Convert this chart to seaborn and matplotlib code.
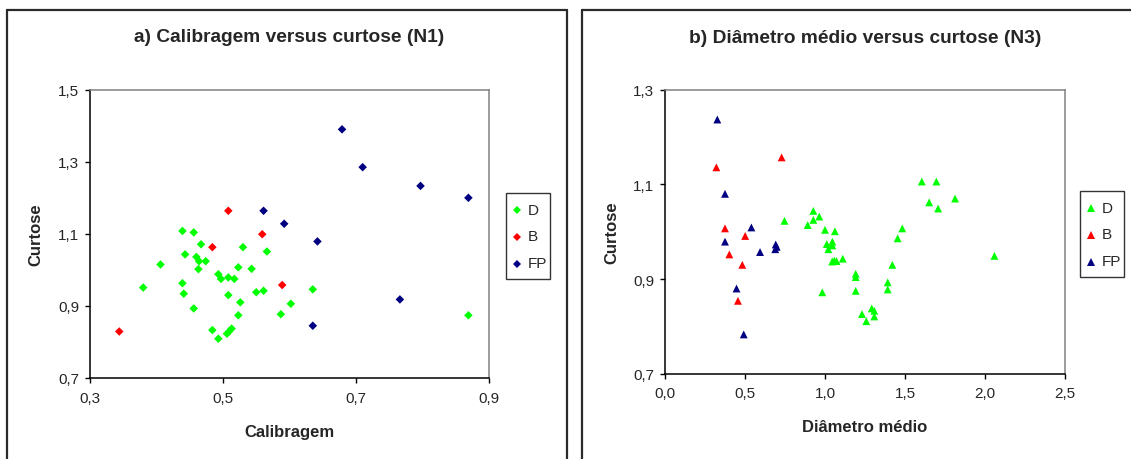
import numpy as np
import pandas as pd
import seaborn as sns
import matplotlib
matplotlib.use("Agg")
import matplotlib.pyplot as plt
from matplotlib.lines import Line2D
from matplotlib.legend_handler import HandlerLine2D

# ---------------- data ----------------
groups = ["D", "B", "FP"]
colors = {"D": "#00FF00", "B": "#FF0000", "FP": "#000080"}

# Panel a) Calibragem versus curtose (N1)
a_D_cal = [0.439, 0.456, 0.467, 0.443, 0.460, 0.464, 0.474, 0.463, 0.406, 0.380,
           0.439, 0.441, 0.456, 0.530, 0.523, 0.543, 0.566, 0.493, 0.497, 0.508,
           0.517, 0.508, 0.550, 0.561, 0.526, 0.602, 0.523, 0.587, 0.635, 0.869,
           0.484, 0.493, 0.506, 0.509, 0.513]
a_D_curt = [1.108, 1.104, 1.071, 1.043, 1.036, 1.024, 1.024, 1.002, 1.015, 0.951,
            0.963, 0.934, 0.893, 1.063, 1.007, 1.003, 1.051, 0.988, 0.975, 0.979,
            0.975, 0.930, 0.938, 0.942, 0.910, 0.906, 0.874, 0.877, 0.946, 0.874,
            0.833, 0.809, 0.823, 0.829, 0.837]
a_B_cal = [0.508, 0.484, 0.559, 0.589, 0.344]
a_B_curt = [1.164, 1.063, 1.099, 0.958, 0.829]
a_FP_cal = [0.679, 0.710, 0.797, 0.869, 0.561, 0.592, 0.642, 0.766, 0.635]
a_FP_curt = [1.390, 1.285, 1.233, 1.200, 1.164, 1.128, 1.079, 0.918, 0.845]

# Panel b) Diametro medio versus curtose (N3)
b_D_diam = [0.747, 0.892, 0.927, 0.927, 0.964, 1.000, 1.062, 1.011, 1.046, 1.046,
            1.021, 1.045, 1.058, 1.072, 1.111, 0.983, 1.192, 1.192, 1.192, 1.231,
            1.258, 1.292, 1.308, 1.308, 1.392, 1.392, 1.421, 1.454, 1.483, 1.605,
            1.696, 1.651, 1.707, 1.813, 2.059]
b_D_curt = [1.023, 1.014, 1.044, 1.025, 1.032, 1.004, 1.001, 0.974, 0.979, 0.971,
            0.963, 0.937, 0.939, 0.938, 0.943, 0.872, 0.911, 0.904, 0.875, 0.826,
            0.811, 0.838, 0.833, 0.821, 0.893, 0.878, 0.930, 0.986, 1.007, 1.106,
            1.106, 1.062, 1.049, 1.070, 0.949]
b_B_diam = [0.321, 0.729, 0.375, 0.501, 0.402, 0.483, 0.456]
b_B_curt = [1.136, 1.157, 1.007, 0.991, 0.952, 0.930, 0.854]
b_FP_diam = [0.327, 0.375, 0.375, 0.540, 0.594, 0.692, 0.698, 0.689, 0.447, 0.492]
b_FP_curt = [1.237, 1.080, 0.979, 1.009, 0.957, 0.973, 0.968, 0.963, 0.880, 0.783]

a_xticks = [0.3, 0.5, 0.7, 0.9]
a_yticks = [0.7, 0.9, 1.1, 1.3, 1.5]
b_xticks = [0.0, 0.5, 1.0, 1.5, 2.0, 2.5]
b_yticks = [0.7, 0.9, 1.1, 1.3]

title_a = "a) Calibragem versus curtose (N1)"
title_b = "b) Diâmetro médio versus curtose (N3)"

# ---------------- frames ----------------
df_a = pd.DataFrame({
    "Calibragem": a_D_cal + a_B_cal + a_FP_cal,
    "Curtose": a_D_curt + a_B_curt + a_FP_curt,
    "grupo": ["D"] * len(a_D_cal) + ["B"] * len(a_B_cal) + ["FP"] * len(a_FP_cal),
})
df_b = pd.DataFrame({
    "Diâmetro médio": b_D_diam + b_B_diam + b_FP_diam,
    "Curtose": b_D_curt + b_B_curt + b_FP_curt,
    "grupo": ["D"] * len(b_D_diam) + ["B"] * len(b_B_diam) + ["FP"] * len(b_FP_diam),
})

# ---------------- style ----------------
sns.set_style("white")
plt.rcParams["font.family"] = ["Liberation Sans", "DejaVu Sans"]

W, H = 1131, 460
fig = plt.figure(figsize=(W / 100, H / 100), dpi=100)

def px_axes(left, right, top, bottom):
    return [left / W, 1 - bottom / H, (right - left) / W, (bottom - top) / H]

ax1 = fig.add_axes(px_axes(90, 489, 90.7, 379))
ax2 = fig.add_axes(px_axes(665, 1065, 90.7, 374.7))

sns.scatterplot(data=df_a, x="Calibragem", y="Curtose", hue="grupo", style="grupo",
                hue_order=groups, style_order=groups, palette=colors,
                markers={g: "D" for g in groups}, s=19, linewidth=0, ax=ax1)
sns.scatterplot(data=df_b, x="Diâmetro médio", y="Curtose", hue="grupo", style="grupo",
                hue_order=groups, style_order=groups, palette=colors,
                markers={g: "^" for g in groups}, s=32, linewidth=0, ax=ax2)

def fmt(v):
    return f"{v:.1f}".replace(".", ",")

for ax, xt, yt, title, xlabel, ylx in [
    (ax1, a_xticks, a_yticks, title_a, "Calibragem", -0.118),
    (ax2, b_xticks, b_yticks, title_b, "Diâmetro médio", -0.115),
]:
    ax.set_xlim(xt[0], xt[-1])
    ax.set_ylim(yt[0], yt[-1])
    ax.set_xticks(xt)
    ax.set_xticklabels([fmt(v) for v in xt])
    ax.set_yticks(yt)
    ax.set_yticklabels([fmt(v) for v in yt])
    ax.tick_params(axis="both", direction="out", length=3.6, width=1,
                   labelsize=11, color="black", bottom=True, left=True)
    ax.tick_params(axis="x", pad=5.5)
    ax.tick_params(axis="y", pad=4)
    for side in ["left", "bottom"]:
        ax.spines[side].set_color("black")
        ax.spines[side].set_linewidth(1.1)
    for side in ["top", "right"]:
        ax.spines[side].set_color("#808080")
        ax.spines[side].set_linewidth(1.1)
    ax.set_xlabel(xlabel, fontsize=12, fontweight="bold")
    ax.set_ylabel("Curtose", fontsize=12, fontweight="bold")
    ax.yaxis.set_label_coords(ylx, 0.5)
    ax.xaxis.set_label_coords(0.5, -0.158)
    ax.set_title(title, fontsize=13.8, fontweight="bold", y=1.185, pad=0, va="center")


class ShiftedHandler(HandlerLine2D):
    """Line2D legend handler that lowers the marker to the text's centre."""
    def __init__(self, shift, **kw):
        super().__init__(**kw)
        self.shift = shift

    def create_artists(self, *args, **kwargs):
        artists = super().create_artists(*args, **kwargs)
        for a in artists:
            a.set_ydata(np.asarray(a.get_ydata()) - self.shift)
        return artists


leg_kw = dict(loc="upper left", bbox_transform=fig.transFigure,
              frameon=True, fancybox=False, fontsize=11, labelspacing=0.0,
              handleheight=2.34, handlelength=1.14, handletextpad=0.15,
              borderpad=0.15, borderaxespad=0)
for ax, anchor in [(ax1, (506 / W, 1 - 194 / H)), (ax2, (1080 / W, 1 - 192 / H))]:
    old = ax.get_legend()
    handles = list(old.legend_handles)
    labels = [t.get_text() for t in old.get_texts()]
    old.remove()
    leg = ax.legend(handles, labels, bbox_to_anchor=anchor,
                    handler_map={Line2D: ShiftedHandler(4.0)}, **leg_kw)
    leg.get_frame().set_edgecolor("black")
    leg.get_frame().set_linewidth(1.0)

# panel frames
def fline(x0, y0, x1, y1):
    fig.add_artist(Line2D([x0 / W, x1 / W], [1 - y0 / H, 1 - y1 / H],
                          transform=fig.transFigure, color="#2a2a2a", lw=1.6))

fline(7, 11, 7, 462)
fline(7, 11, 567, 11)
fline(567, 11, 567, 462)
fline(582, 462, 582, 11)
fline(582, 11, 1133, 11)

fig.savefig("out.png", dpi=100)
